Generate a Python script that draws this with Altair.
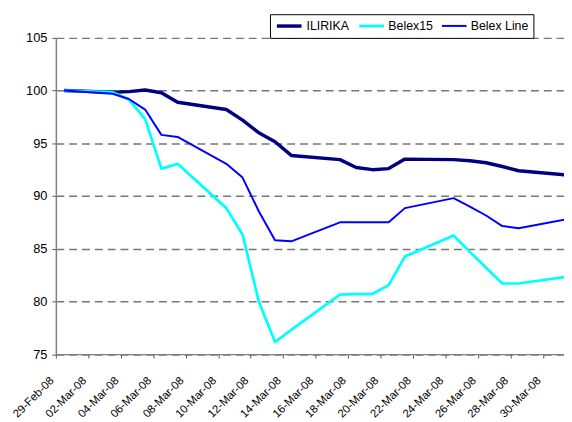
import altair as alt
import pandas as pd

dates = ["2008-02-29", "2008-03-03", "2008-03-04", "2008-03-05", "2008-03-06", "2008-03-07",
         "2008-03-10", "2008-03-11", "2008-03-12", "2008-03-13", "2008-03-14",
         "2008-03-17", "2008-03-18", "2008-03-19", "2008-03-20", "2008-03-21",
         "2008-03-24", "2008-03-25", "2008-03-26", "2008-03-27", "2008-03-28", "2008-03-31"]

ilirika = [100.0, 99.85, 99.9, 100.05, 99.8, 98.9,
           98.2, 97.2, 96.0, 95.15, 93.85,
           93.45, 92.7, 92.5, 92.6, 93.5,
           93.45, 93.35, 93.15, 92.8, 92.4, 92.0]

belex15 = [100.0, 99.85, 99.15, 97.3, 92.6, 93.05,
           88.85, 86.35, 80.0, 76.15, 77.3,
           80.65, 80.7, 80.7, 81.55, 84.25,
           86.25, 84.7, 83.2, 81.7, 81.7, 82.35]

belex_line = [100.0, 99.7, 99.2, 98.2, 95.8, 95.6,
              93.05, 91.75, 88.55, 85.8, 85.7,
              87.5, 87.5, 87.5, 87.5, 88.85,
              89.8, 89.0, 88.15, 87.15, 86.95, 87.8]

series_names = ["ILIRIKA", "Belex15", "Belex Line"]
series_colors = ["#000080", "#00FFFF", "#0000FF"]
series_widths = [3.5, 2, 2]

tick_days = [(2, 29), (3, 2), (3, 4), (3, 6), (3, 8), (3, 10), (3, 12), (3, 14),
             (3, 16), (3, 18), (3, 20), (3, 22), (3, 24), (3, 26), (3, 28), (3, 30)]
y_ticks = [75, 80, 85, 90, 95, 100, 105]

rows = []
for name, vals in zip(series_names, [ilirika, belex15, belex_line]):
    for d, v in zip(dates, vals):
        rows.append({"date": d + "T12:00:00", "value": v, "series": name})
df = pd.DataFrame(rows)

x_values = [alt.DateTime(year=2008, month=m, date=d) for m, d in tick_days]

chart = alt.Chart(df).mark_line(clip=True, strokeJoin="round").encode(
    x=alt.X(
        "date:T",
        scale=alt.Scale(domain=[alt.DateTime(year=2008, month=2, date=29),
                                alt.DateTime(year=2008, month=3, date=31, hours=7, minutes=12)]),
        axis=alt.Axis(values=x_values, format="%d-%b-%y", labelAngle=315, labelAlign="right",
                      labelBaseline="middle", labelPadding=21, labelOffset=-4, labelFontSize=11.5,
                      title=None, grid=False, labelOverlap=False, labelFlush=False, tickSize=4),
    ),
    y=alt.Y(
        "value:Q",
        scale=alt.Scale(domain=[75, 105], nice=False, zero=False),
        axis=alt.Axis(values=y_ticks, title=None, grid=True, gridDash=[8, 5], gridColor="#777777",
                      gridWidth=1.5, tickSize=4, labelPadding=5, labelFontSize=13),
    ),
    color=alt.Color("series:N", title=None,
                    scale=alt.Scale(domain=series_names, range=series_colors)),
    strokeWidth=alt.StrokeWidth("series:N", title=None,
                                scale=alt.Scale(domain=series_names, range=series_widths)),
).properties(
    width=515,
    height=320.5,
    autosize=alt.AutoSizeParams(type="none"),
    padding={"left": 48.5, "top": 27.5, "right": 0, "bottom": 66},
).configure_view(
    stroke=None
).configure_axis(
    labelFont="Liberation Sans",
    labelColor="#000000",
    domainColor="#808080",
    domainWidth=1.5,
    tickColor="#555555",
    tickWidth=1,
).configure_legend(
    orient="none",
    legendX=217,
    legendY=-24,
    direction="horizontal",
    strokeColor="#000000",
    fillColor="#ffffff",
    padding=5,
    labelFont="Liberation Sans",
    labelFontSize=12.5,
    labelColor="#000000",
    symbolType="M-1,0H4",
    symbolSize=100,
    labelOffset=18,
    columnPadding=4,
)

chart.save("out.html", embed_options={"renderer": "svg", "actions": False})
